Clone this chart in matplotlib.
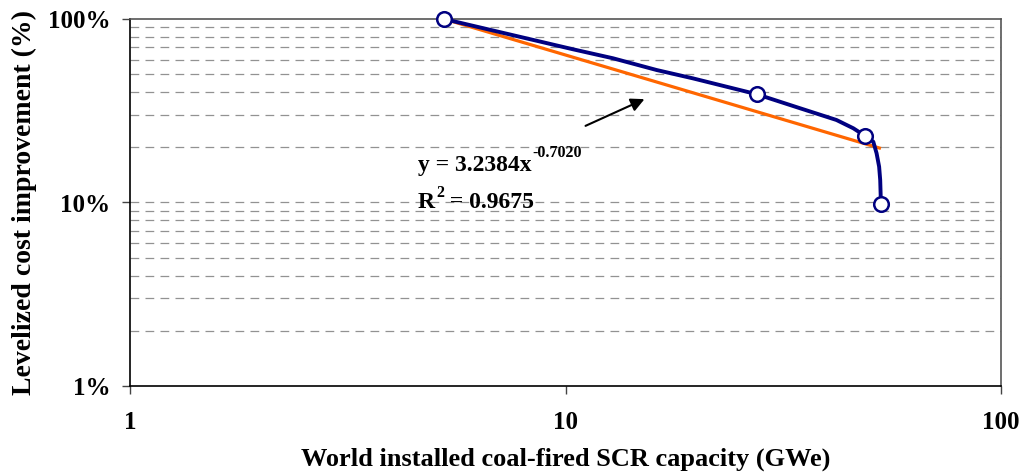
import matplotlib
matplotlib.use("Agg")
import matplotlib.pyplot as plt
from matplotlib.ticker import FixedLocator, FuncFormatter, NullFormatter

plt.rcParams['font.family'] = ['Liberation Serif', 'DejaVu Serif']
plt.rcParams['font.weight'] = 'bold'

curve_x = [5.26, 10.4, 12.85, 16.2, 19.6, 27.5, 34.6, 41.9, 45.8, 48.7,
           50.9, 51.8, 52.5, 52.8, 53.0]
curve_y = [1.00, 0.684, 0.611, 0.527, 0.475, 0.389, 0.326, 0.2816, 0.2538, 0.231,
           0.2145, 0.1854, 0.1567, 0.1326, 0.0985]
# Marked data points
point_x = [5.26, 27.5, 48.7, 53.0]
point_y = [1.00, 0.389, 0.231, 0.0985]
# Power-law trendline end points
trend_x = [5.26, 53.0]
trend_y = [1.00, 0.197]

eq_main = 'y = 3.2384x'
eq_sup = '-0.7020'
r2_main = 'R'
r2_sup = '2'
r2_rest = ' = 0.9675'
x_label = 'World installed coal-fired SCR capacity (GWe)'
y_label = 'Levelized cost improvement (%)'

W, H = 1021, 473
fig = plt.figure(figsize=(W / 100, H / 100), dpi=100)
ax = fig.add_axes([130 / W, 1 - 386 / H, 871 / W, 367 / H])
ax.set_xscale('log')
ax.set_yscale('log')
ax.set_xlim(1, 100)
ax.set_ylim(0.01, 1)

# horizontal dashed gridlines
for dec in [0.01, 0.1]:
    for m in range(2, 11):
        v = dec * m
        if v < 1:
            ax.axhline(v, color='#929292', lw=0.9, ls=(0, (7, 5)), zorder=1)

ax.plot(trend_x, trend_y, color='#FF6600', lw=2.3, zorder=3, solid_capstyle='butt')
ax.plot(curve_x, curve_y, color='#000080', lw=2.8, zorder=4,
        solid_joinstyle='round')
ax.plot(point_x, point_y, ls='none', marker='o', ms=10.5, mfc='white',
        mec='#000080', mew=1.8, zorder=5, clip_on=False)

ax.xaxis.set_major_locator(FixedLocator([1, 10, 100]))
ax.xaxis.set_minor_locator(FixedLocator([]))
ax.yaxis.set_major_locator(FixedLocator([0.01, 0.1, 1]))
ax.yaxis.set_minor_locator(FixedLocator([]))
ax.xaxis.set_major_formatter(FuncFormatter(lambda v, p: f'{v:g}'))
ax.yaxis.set_major_formatter(FuncFormatter(lambda v, p: f'{v*100:g}%'))
ax.xaxis.set_minor_formatter(NullFormatter())
ax.yaxis.set_minor_formatter(NullFormatter())
ax.tick_params(axis='both', which='major', direction='out', length=6,
               width=1, labelsize=18, color='#444444')
ax.tick_params(axis='x', pad=12)
ax.tick_params(axis='y', pad=8)
for lbl in ax.get_xticklabels() + ax.get_yticklabels():
    lbl.set_fontweight('bold')

ax.spines['left'].set_color('black')
ax.spines['bottom'].set_color('black')
ax.spines['top'].set_color('#555555')
ax.spines['right'].set_color('#555555')
for s in ax.spines.values():
    s.set_linewidth(1.2)

ax.set_xlabel(x_label, fontsize=19, fontweight='bold', labelpad=10)
ax.set_ylabel(y_label, fontsize=20, fontweight='bold', labelpad=8)

ax.annotate('', xy=(647, H - 98), xytext=(583, H - 127),
            xycoords='figure pixels', textcoords='figure pixels',
            arrowprops=dict(arrowstyle='-|>', color='black', lw=1.5,
                            mutation_scale=20))

fig.canvas.draw()
renderer = fig.canvas.get_renderer()


def put(x_px, base_px, s, size):
    t = fig.text(x_px / W, 1 - base_px / H, s, fontsize=size, fontweight='bold',
                 va='baseline', ha='left')
    bb = t.get_window_extent(renderer=renderer)
    return bb.x1


x_end = put(418, 171, eq_main, 17)
put(x_end + 1, 157, eq_sup, 11.5)
x_end = put(418, 208, r2_main, 17)
x_end = put(x_end + 1, 197, r2_sup, 11.5)
put(x_end, 208, r2_rest, 17)

fig.savefig('out.png', dpi=100)
